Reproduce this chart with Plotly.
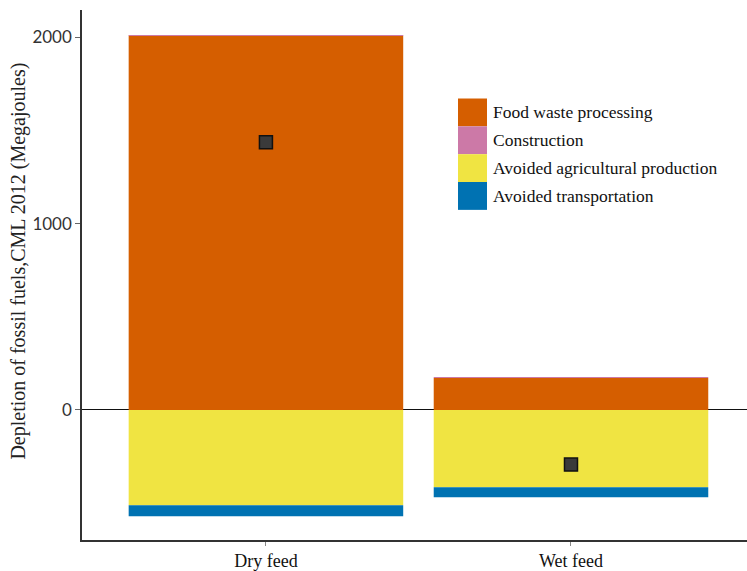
import plotly.graph_objects as go

categories = ["Dry feed", "Wet feed"]
series_names = ["Food waste processing", "Construction", "Avoided agricultural production", "Avoided transportation"]
food_waste_processing = [2010, 172]
construction = [1, 1]
avoided_agricultural_production = [-511, -415]
avoided_transportation = [-59, -53]
net_total = [1437, -293]
colors = ["#D55E00", "#CC79A7", "#F0E442", "#0072B2"]

series_values = [food_waste_processing, construction, avoided_agricultural_production, avoided_transportation]

W, H = 747, 571
L, R, T, B = 82, 0, 10, 28
pw, ph = W - L - R, H - T - B

fig = go.Figure()
for name, vals, col in zip(series_names, series_values, colors):
    fig.add_trace(go.Bar(x=categories, y=vals, name=name, marker=dict(color=col, line=dict(width=0)),
                         width=0.9, showlegend=False, hoverinfo="skip"))

fig.add_trace(go.Scatter(x=categories, y=net_total, mode="markers", showlegend=False,
                         marker=dict(symbol="square", size=13, color="#3a3a3a",
                                     line=dict(color="#111111", width=1.5))))

serif = "Liberation Serif, Times New Roman, serif"

# custom legend (large swatches)
def px_x(px):
    return (px - L) / pw

def px_y(py):
    return (H - B - py) / ph

shapes = []
annotations = []
sw_x0, sw_x1, row_top, row_h = 458, 487, 99, 28
for i, (name, col) in enumerate(zip(series_names, colors)):
    y0 = row_top + i * row_h
    y1 = y0 + row_h
    shapes.append(dict(type="rect", xref="paper", yref="paper",
                       x0=px_x(sw_x0), x1=px_x(sw_x1), y0=px_y(y1), y1=px_y(y0),
                       fillcolor=col, line=dict(width=0), layer="above"))
    annotations.append(dict(xref="paper", yref="paper", x=px_x(sw_x1 + 4), y=px_y((y0 + y1) / 2),
                            text=name, showarrow=False, xanchor="left", yanchor="middle",
                            font=dict(family=serif, size=17.5, color="#111111")))

annotations.append(dict(xref="paper", yref="paper", x=px_x(19), y=px_y(263),
                        text="Depletion of fossil fuels,CML 2012 (Megajoules)", textangle=-90,
                        showarrow=False, xanchor="center", yanchor="middle",
                        font=dict(family=serif, size=20, color="#222222")))

fig.update_layout(
    width=W, height=H,
    margin=dict(l=L, r=R, t=T, b=B, pad=0),
    paper_bgcolor="white", plot_bgcolor="white",
    barmode="relative", bargap=0.1,
    shapes=shapes, annotations=annotations,
    showlegend=False,
    xaxis=dict(range=[-0.603, 1.577], showline=True, linecolor="#333333", linewidth=1.5,
               ticks="outside", ticklen=4, tickcolor="#888888", showgrid=False,
               tickfont=dict(family=serif, size=18, color="#111111"), zeroline=False),
    yaxis=dict(range=[-698, 2147], showline=True, linecolor="#333333", linewidth=1.5,
               ticks="outside", ticklen=5, tickcolor="#666666", showgrid=False,
               tickvals=[0, 1000, 2000], ticktext=["0", "1000", "2000"],
               tickfont=dict(family="Lato, sans-serif", size=17, color="#333333"),
               zeroline=True, zerolinecolor="#111111", zerolinewidth=1.2,
               layer="above traces"),
)

fig.write_html("out.html")
